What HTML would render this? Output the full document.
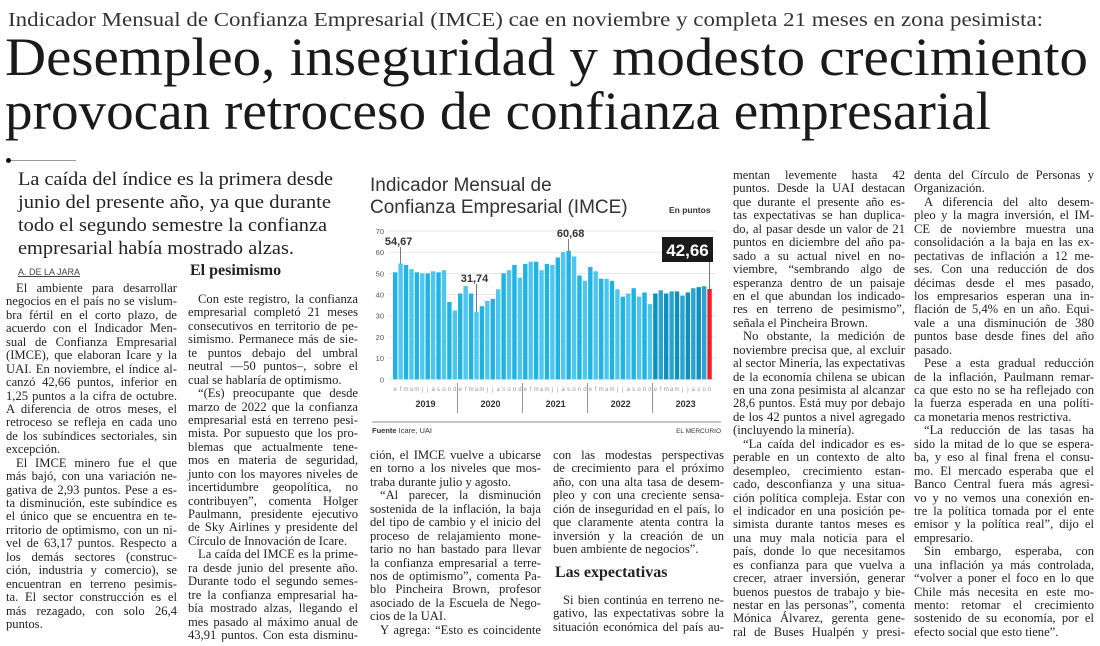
<!DOCTYPE html>
<html><head><meta charset="utf-8">
<style>
*{margin:0;padding:0;box-sizing:border-box}
body{width:1100px;height:646px;background:#fff;position:relative;overflow:hidden;font-family:"Liberation Serif",serif;color:#222}
.abs{position:absolute}
.col{position:absolute;font-size:12.6px;line-height:13.45px}
.col div{height:13.45px;white-space:nowrap}
.col div span{display:inline-block;transform-origin:0 0}
.col div.i span{margin-left:10px}
.h2{font-weight:bold;font-size:16px}
</style></head>
<body>
<div class="abs" style="left:8px;top:9px;font-size:20px;color:#333;white-space:nowrap"><span class="fit" data-w="1035">Indicador Mensual de Confianza Empresarial (IMCE) cae en noviembre y completa 21 meses en zona pesimista:</span></div>
<div class="abs" style="left:5px;top:30px;font-size:54px;line-height:54px;color:#1a1a1a;white-space:nowrap">
<div><span class="fit" data-w="1083" style="display:inline-block;transform-origin:0 0">Desempleo, inseguridad y modesto crecimiento</span></div>
<div><span class="fit" data-w="986" style="display:inline-block;transform-origin:0 0">provocan retroceso de confianza empresarial</span></div>
</div>
<div class="abs" style="left:8px;top:160px;width:68px;height:1px;background:#999"></div>
<div class="abs" style="left:6px;top:158px;width:5px;height:5px;border-radius:50%;background:#111"></div>
<div class="abs" style="left:18px;top:168px;font-size:18.6px;line-height:23px;color:#222;white-space:nowrap">
<div><span class="fit" data-w="315" style="display:inline-block;transform-origin:0 0">La caída del índice es la primera desde</span></div>
<div><span class="fit" data-w="313" style="display:inline-block;transform-origin:0 0">junio del presente año, ya que durante</span></div>
<div><span class="fit" data-w="309" style="display:inline-block;transform-origin:0 0">todo el segundo semestre la confianza</span></div>
<div><span class="fit" data-w="276" style="display:inline-block;transform-origin:0 0">empresarial había mostrado alzas.</span></div>
</div>
<div class="abs" style="left:18px;top:267px;font-family:'Liberation Sans',sans-serif;font-size:9px;color:#444;text-decoration:underline">A. DE LA JARA</div>
<div class="abs h2" style="left:190px;top:262px">El pesimismo</div>
<div class="abs h2" style="left:555px;top:564px">Las expectativas</div>

<div class="col" style="left:6px;top:282px;width:171px">
<div class="i"><span>El ambiente para desarrollar</span></div><div><span>negocios en el país no se vislum-</span></div><div><span>bra fértil en el corto plazo, de</span></div><div><span>acuerdo con el Indicador Men-</span></div><div><span>sual de Confianza Empresarial</span></div><div><span>(IMCE), que elaboran Icare y la</span></div><div><span>UAI. En noviembre, el índice al-</span></div><div><span>canzó 42,66 puntos, inferior en</span></div><div><span>1,25 puntos a la cifra de octubre.</span></div><div><span>A diferencia de otros meses, el</span></div><div><span>retroceso se refleja en cada uno</span></div><div><span>de los subíndices sectoriales, sin</span></div><div class="l"><span>excepción.</span></div><div class="i"><span>El IMCE minero fue el que</span></div><div><span>más bajó, con una variación ne-</span></div><div><span>gativa de 2,93 puntos. Pese a es-</span></div><div><span>ta disminución, este subíndice es</span></div><div><span>el único que se encuentra en te-</span></div><div><span>rritorio de optimismo, con un ni-</span></div><div><span>vel de 63,17 puntos. Respecto a</span></div><div><span>los demás sectores (construc-</span></div><div><span>ción, industria y comercio), se</span></div><div><span>encuentran en terreno pesimis-</span></div><div><span>ta. El sector construcción es el</span></div><div><span>más rezagado, con solo 26,4</span></div><div class="l"><span>puntos.</span></div>
</div>

<div class="col" style="left:188px;top:293px;width:170px">
<div class="i"><span>Con este registro, la confianza</span></div><div><span>empresarial completó 21 meses</span></div><div><span>consecutivos en territorio de pe-</span></div><div><span>simismo. Permanece más de sie-</span></div><div><span>te puntos debajo del umbral</span></div><div><span>neutral —50 puntos–, sobre el</span></div><div class="l"><span>cual se hablaría de optimismo.</span></div><div class="i"><span>“(Es) preocupante que desde</span></div><div><span>marzo de 2022 que la confianza</span></div><div><span>empresarial está en terreno pesi-</span></div><div><span>mista. Por supuesto que los pro-</span></div><div><span>blemas que actualmente tene-</span></div><div><span>mos en materia de seguridad,</span></div><div><span>junto con los mayores niveles de</span></div><div><span>incertidumbre geopolítica, no</span></div><div><span>contribuyen”, comenta Holger</span></div><div><span>Paulmann, presidente ejecutivo</span></div><div><span>de Sky Airlines y presidente del</span></div><div class="l"><span>Círculo de Innovación de Icare.</span></div><div class="i"><span>La caída del IMCE es la prime-</span></div><div><span>ra desde junio del presente año.</span></div><div><span>Durante todo el segundo semes-</span></div><div><span>tre la confianza empresarial ha-</span></div><div><span>bía mostrado alzas, llegando el</span></div><div><span>mes pasado al máximo anual de</span></div><div><span>43,91 puntos. Con esta disminu-</span></div>
</div>

<div class="col" style="left:370px;top:449px;width:171px">
<div><span>ción, el IMCE vuelve a ubicarse</span></div><div><span>en torno a los niveles que mos-</span></div><div class="l"><span>traba durante julio y agosto.</span></div><div class="i"><span>“Al parecer, la disminución</span></div><div><span>sostenida de la inflación, la baja</span></div><div><span>del tipo de cambio y el inicio del</span></div><div><span>proceso de relajamiento mone-</span></div><div><span>tario no han bastado para llevar</span></div><div><span>la confianza empresarial a terre-</span></div><div><span>nos de optimismo”, comenta Pa-</span></div><div><span>blo Pincheira Brown, profesor</span></div><div><span>asociado de la Escuela de Nego-</span></div><div class="l"><span>cios de la UAI.</span></div><div class="i"><span>Y agrega: “Esto es coincidente</span></div>
</div>

<div class="col" style="left:553px;top:449px;width:171px">
<div><span>con las modestas perspectivas</span></div><div><span>de crecimiento para el próximo</span></div><div><span>año, con una alta tasa de desem-</span></div><div><span>pleo y con una creciente sensa-</span></div><div><span>ción de inseguridad en el país, lo</span></div><div><span>que claramente atenta contra la</span></div><div><span>inversión y la creación de un</span></div><div class="l"><span>buen ambiente de negocios”.</span></div>
</div>
<div class="col" style="left:553px;top:594px;width:171px">
<div class="i"><span>Si bien continúa en terreno ne-</span></div><div><span>gativo, las expectativas sobre la</span></div><div><span>situación económica del país au-</span></div>
</div>

<div class="col" style="left:733px;top:169px;width:172px">
<div><span>mentan levemente hasta 42</span></div><div><span>puntos. Desde la UAI destacan</span></div><div><span>que durante el presente año es-</span></div><div><span>tas expectativas se han duplica-</span></div><div><span>do, al pasar desde un valor de 21</span></div><div><span>puntos en diciembre del año pa-</span></div><div><span>sado a su actual nivel en no-</span></div><div><span>viembre, “sembrando algo de</span></div><div><span>esperanza dentro de un paisaje</span></div><div><span>en el que abundan los indicado-</span></div><div><span>res en terreno de pesimismo”,</span></div><div class="l"><span>señala el Pincheira Brown.</span></div><div class="i"><span>No obstante, la medición de</span></div><div><span>noviembre precisa que, al excluir</span></div><div><span>al sector Minería, las expectativas</span></div><div><span>de la economía chilena se ubican</span></div><div><span>en una zona pesimista al alcanzar</span></div><div><span>28,6 puntos. Está muy por debajo</span></div><div><span>de los 42 puntos a nivel agregado</span></div><div class="l"><span>(incluyendo la minería).</span></div><div class="i"><span>“La caída del indicador es es-</span></div><div><span>perable en un contexto de alto</span></div><div><span>desempleo, crecimiento estan-</span></div><div><span>cado, desconfianza y una situa-</span></div><div><span>ción política compleja. Estar con</span></div><div><span>el indicador en una posición pe-</span></div><div><span>simista durante tantos meses es</span></div><div><span>una muy mala noticia para el</span></div><div><span>país, donde lo que necesitamos</span></div><div><span>es confianza para que vuelva a</span></div><div><span>crecer, atraer inversión, generar</span></div><div><span>buenos puestos de trabajo y bie-</span></div><div><span>nestar en las personas”, comenta</span></div><div><span>Mónica Álvarez, gerenta gene-</span></div><div><span>ral de Buses Hualpén y presi-</span></div>
</div>

<div class="col" style="left:914px;top:169px;width:180px">
<div><span>denta del Círculo de Personas y</span></div><div class="l"><span>Organización.</span></div><div class="i"><span>A diferencia del alto desem-</span></div><div><span>pleo y la magra inversión, el IM-</span></div><div><span>CE de noviembre muestra una</span></div><div><span>consolidación a la baja en las ex-</span></div><div><span>pectativas de inflación a 12 me-</span></div><div><span>ses. Con una reducción de dos</span></div><div><span>décimas desde el mes pasado,</span></div><div><span>los empresarios esperan una in-</span></div><div><span>flación de 5,4% en un año. Equi-</span></div><div><span>vale a una disminución de 380</span></div><div><span>puntos base desde fines del año</span></div><div class="l"><span>pasado.</span></div><div class="i"><span>Pese a esta gradual reducción</span></div><div><span>de la inflación, Paulmann remar-</span></div><div><span>ca que esto no se ha reflejado con</span></div><div><span>la fuerza esperada en una políti-</span></div><div class="l"><span>ca monetaria menos restrictiva.</span></div><div class="i"><span>“La reducción de las tasas ha</span></div><div><span>sido la mitad de lo que se espera-</span></div><div><span>ba, y eso al final frena el consu-</span></div><div><span>mo. El mercado esperaba que el</span></div><div><span>Banco Central fuera más agresi-</span></div><div><span>vo y no vemos una conexión en-</span></div><div><span>tre la política tomada por el ente</span></div><div><span>emisor y la política real”, dijo el</span></div><div class="l"><span>empresario.</span></div><div class="i"><span>Sin embargo, esperaba, con</span></div><div><span>una inflación ya más controlada,</span></div><div><span>“volver a poner el foco en lo que</span></div><div><span>Chile más necesita en este mo-</span></div><div><span>mento: retomar el crecimiento</span></div><div><span>sostenido de su economía, por el</span></div><div class="l"><span>efecto social que esto tiene”.</span></div>
</div>

<svg class="abs" style="left:0;top:0" width="1100" height="646" id="chart">
<text x="370" y="191" font-family="Liberation Sans,sans-serif" font-size="19" fill="#333">Indicador Mensual de</text>
<text x="370" y="213" font-family="Liberation Sans,sans-serif" font-size="19" fill="#333">Confianza Empresarial (IMCE)</text>
<text x="669" y="213" font-family="Liberation Sans,sans-serif" font-size="8.5" font-weight="bold" fill="#333">En puntos</text>
<line x1="372" y1="422" x2="721" y2="422" stroke="#888" stroke-width="1"/>
<text x="372" y="433" font-family="Liberation Sans,sans-serif" font-size="7.5" fill="#333"><tspan font-weight="bold">Fuente</tspan> Icare, UAI</text>
<text x="721" y="433" text-anchor="end" font-family="Liberation Sans,sans-serif" font-size="6.5" fill="#333">EL MERCURIO</text>
</svg>

<script>
const years = ["2019","2020","2021","2022","2023"];
const monthLabels = ["e","f","m","a","m","j","j","a","s","o","n","d"];
const yTicks = [0,10,20,30,40,50,60,70];
const values2019 = [50.5,54.67,54,52,50.5,50,50,51,50.5,51.5,36.5,32.5];
const values2020 = [40.5,44,40.5,31.74,34.5,37,38,42.5,50,51.5,54,48];
const values2021 = [54.5,55.5,55.5,51.5,54.5,54,57.5,60,60.68,58,49,46.5];
const values2022 = [53,51,47.5,47.5,46.5,42.5,39,40.5,43,39,41,35.5];
const values2023 = [40.5,42,40.5,41.5,41.5,39.5,41,43,43.5,43.91,42.66];
const callouts = [["2019",1,"54,67"],["2020",3,"31,74"],["2021",8,"60,68"]];

const NS="http://www.w3.org/2000/svg";
const svg=document.getElementById('chart');
const series=[values2019,values2020,values2021,values2022,values2023];
const all=[];series.forEach((s,yi)=>s.forEach((v,mi)=>all.push({v,yi,mi})));
const x0=393,step=5.42,bw=4.4;
const yS=v=>379.3-v*(148.3/70);
const xS=i=>x0+i*step;
function mk(tag,attrs){const e=document.createElementNS(NS,tag);for(const k in attrs)e.setAttribute(k,attrs[k]);svg.appendChild(e);return e;}
yTicks.forEach(t=>{
  const g=mk('line',{x1:388,x2:716,y1:yS(t),y2:yS(t),stroke:'#ddd','stroke-width':0.7});
  
  
  const tx=mk('text',{x:384,y:yS(t)+3,'text-anchor':'end','font-size':7.5,'font-family':'Liberation Sans,sans-serif',fill:'#555'});
  tx.textContent=t;
  
  
});
all.forEach((d,i)=>{
  const last=i===all.length-1;
  let fill;
  if(last) fill='#f0202a';
  else if(d.yi===4) fill=(i%2?'#2aa3d0':'#0e8fc0');
  else fill=(i%2?'#4fc6ee':'#1fb3e3');
  const r=mk('rect',{x:xS(i),y:yS(d.v),width:bw,height:yS(0)-yS(d.v),fill});
  
  
  const m=mk('text',{x:xS(i)+bw/2,y:391,'text-anchor':'middle','font-size':6,'font-family':'Liberation Sans,sans-serif',fill:'#999'});
  m.textContent=monthLabels[d.mi];
  
  
});
let idx=0;
series.forEach((s,yi)=>{
  const start=xS(idx)-0.5;
  if(yi>0){const l=mk('line',{x1:start,x2:start,y1:383,y2:413,stroke:'#777','stroke-width':0.8});
    
    }
  const c=mk('text',{x:(xS(idx)+xS(idx+12))/2,y:407,'text-anchor':'middle','font-size':9,'font-weight':'bold','font-family':'Liberation Sans,sans-serif',fill:'#333'});
  c.textContent=years[yi];
  
  
  idx+=s.length;
});
callouts.forEach(([yr,mi,lab])=>{
  const yi=years.indexOf(yr);const i=yi*12+mi;const v=series[yi][mi];
  const cx=xS(i)+bw/2;
  const ly=yS(v);
  const ty = yr==="2019"?245:(yr==="2020"?282:237);
  const tx = yr==="2021"?cx+2:cx-2;
  const ln=mk('line',{x1:cx,x2:cx,y1:ty+2,y2:ly,stroke:'#555','stroke-width':0.8});
  
  
  const t=mk('text',{x:tx,y:ty,'text-anchor':'middle','font-size':11,'font-weight':'bold','font-family':'Liberation Sans,sans-serif',fill:'#333'});
  t.textContent=lab;
  
  
});
{
  const i=all.length-1;const v=all[i].v;const cx=xS(i)+bw/2;
  const ln=mk('line',{x1:cx,x2:cx,y1:262,y2:yS(v),stroke:'#555','stroke-width':0.8});
  
  
  const b=mk('rect',{x:662,y:237,width:51,height:25,fill:'#1a1a1a'});
  
  
  const t=mk('text',{x:687.5,y:256,'text-anchor':'middle','font-size':17,'font-weight':'bold','font-family':'Liberation Sans,sans-serif',fill:'#fff'});
  t.textContent=v.toFixed(2).replace('.',',');
  
  
}

document.querySelectorAll('.fit').forEach(s=>{
  s.style.display='inline-block';s.style.transformOrigin='0 0';
  const w=s.getBoundingClientRect().width, W=+s.dataset.w;
  s.style.transform='scaleX('+(W/w)+')';
});
document.querySelectorAll('.col').forEach(col=>{
  const W=parseFloat(col.style.width);
  col.querySelectorAll('div').forEach(d=>{
    const s=d.querySelector('span');
    const avail=W-(d.classList.contains('i')?10:0);
    let w=s.getBoundingClientRect().width;
    if(w>avail){s.style.transform='scaleX('+(avail/w)+')';return;}
    if(d.classList.contains('l'))return;
    const n=(s.textContent.match(/ /g)||[]).length;
    if(n>0)s.style.wordSpacing=((avail-w)/n)+'px';
  });
});
</script>
</body></html>
